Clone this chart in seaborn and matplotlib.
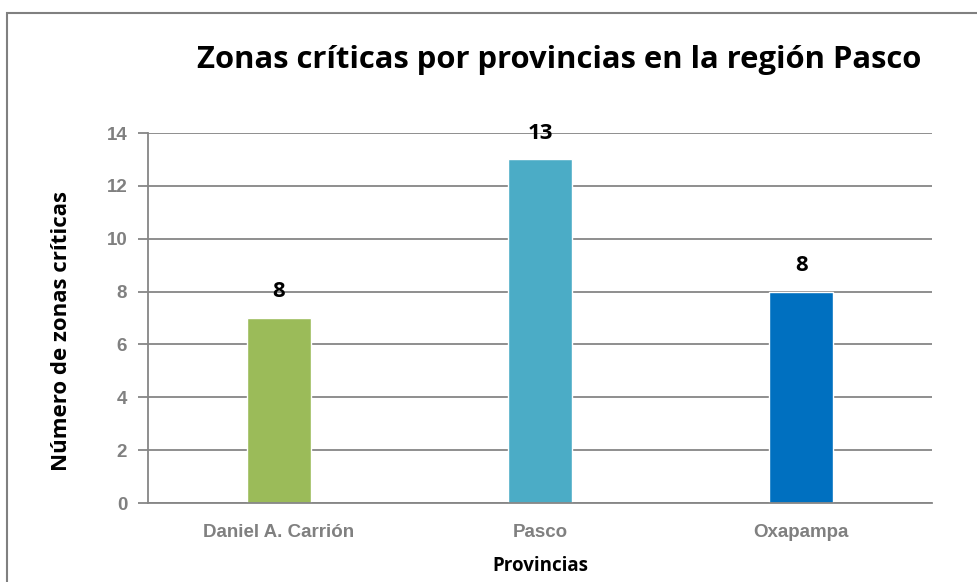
import matplotlib
matplotlib.use("Agg")
import matplotlib.pyplot as plt
import seaborn as sns
import pandas as pd
from matplotlib.patches import Rectangle

provincias = ["Daniel A. Carrión", "Pasco", "Oxapampa"]
valores = [7, 13, 8]
etiquetas = ["8", "13", "8"]
colores = ["#9BBB59", "#4BACC6", "#0070C0"]
yticks = [0, 2, 4, 6, 8, 10, 12, 14]

sns.set_theme(style="white")
plt.rcParams['font.family'] = ['Open Sans', 'DejaVu Sans']

df = pd.DataFrame({"prov": provincias, "val": valores})

fig = plt.figure(figsize=(9.78, 5.82), dpi=100)
ax = fig.add_axes([148/978, 1 - 503/582, (932-148)/978, (503-133)/582])

sns.barplot(data=df, x="prov", y="val", hue="prov", palette=colores,
            width=0.245, legend=False, ax=ax, saturation=1)

ax.set_ylim(0, 14)
ax.set_xlim(-0.5, 2.5)
ax.set_yticks(yticks)
ax.yaxis.grid(True, color="#868686", linewidth=1.3)
ax.set_axisbelow(True)
for s in ["top", "right"]:
    ax.spines[s].set_visible(False)
for s in ["left", "bottom"]:
    ax.spines[s].set_color("#868686")
    ax.spines[s].set_linewidth(1.3)

ax.tick_params(axis="y", left=True, length=7, width=1.3, color="#868686",
               labelsize=13.5, labelcolor="#808080", pad=8)
ax.tick_params(axis="x", bottom=False, labelsize=13.5, labelcolor="#808080", pad=9)
for lab in ax.get_yticklabels() + ax.get_xticklabels():
    lab.set_fontweight("bold")
    lab.set_family(["Liberation Sans", "DejaVu Sans"])

for i, (v, t) in enumerate(zip(valores, etiquetas)):
    ax.annotate(t, (i, v), xytext=(0, 19), textcoords="offset points",
                ha="center", va="center", fontsize=16, fontweight="bold", color="black")

ax.set_xlabel("Provincias", fontsize=13.5, fontweight="bold", color="black", labelpad=11)
ax.set_ylabel("Número de zonas críticas", fontsize=16, fontweight="bold", color="black", labelpad=24)
ax.yaxis.set_label_coords(-0.097, (503 - 331) / (503 - 133))

fig.text(559/978, 1 - 60/582, "Zonas críticas por provincias en la región Pasco",
         ha="center", va="center", fontsize=22.3, fontweight="bold", color="black")

fig.patches.append(Rectangle((7/978, -0.05), 1.0, 1 - 13/582 + 0.05, transform=fig.transFigure,
                             fill=False, edgecolor="#808080", linewidth=1.5))

fig.savefig("out.png", dpi=100)
